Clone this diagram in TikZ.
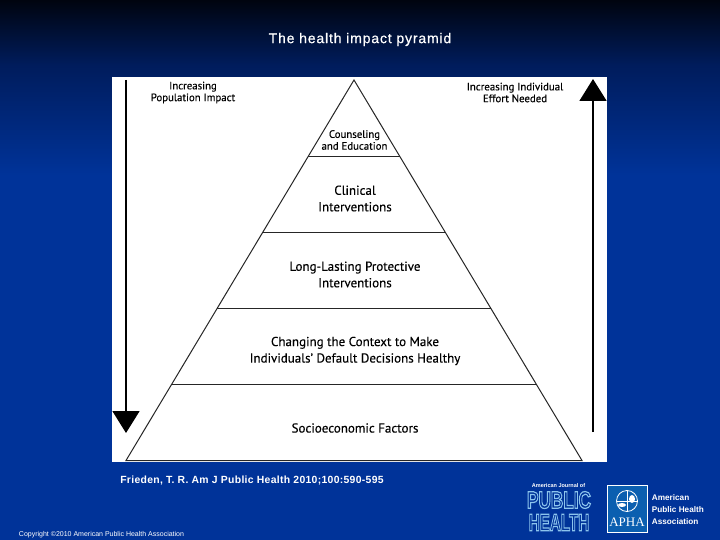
\documentclass[tikz,border=0pt]{standalone}
\usepackage{fontspec}
\usepackage{xcolor}
\setmainfont[FakeBold=0.25]{PT Sans}
\newfontfamily\slidefont{Liberation Sans}
\newfontfamily\titlefont[FakeBold=0.5,LetterSpace=6]{Liberation Sans}
\newfontfamily\logofont{Liberation Serif}
\definecolor{slideblue}{HTML}{003399}
\definecolor{slidemid}{HTML}{001C5C}
\definecolor{slidedark}{HTML}{00040F}
\definecolor{logoblue}{HTML}{0B5FB0}
\definecolor{logolight}{HTML}{8CC4EE}
\newcommand{\hollowtext}[1]{\special{pdf:code q 1 Tr 1 w 0.55 0.77 0.93 RG}#1\special{pdf:code Q}}
\usetikzlibrary{arrows.meta, positioning, calc}

\begin{document}
\begin{tikzpicture}[x=1pt, y=-1pt, thick]
    \tikzset{
        band/.style={align=center, font=\fontsize{13}{16.5}\selectfont, text=black, inner sep=0pt},
        side/.style={align=center, font=\fontsize{10.8}{11.8}\selectfont, text=black, inner sep=0pt},
        bigarrow/.style={draw=black, line width=1.7pt, -{Triangle[length=22pt, width=27pt]}},
        edge/.style={draw=black!85, line width=1pt},
        slide/.style={text=white, font=\slidefont, inner sep=0pt},
        logo/.style={text=logolight, font=\slidefont\bfseries, inner sep=0pt}
    }

    % background
    \useasboundingbox (0,0) rectangle (720,540);
    \fill[slideblue] (0,0) rectangle (720,540);
    \shade[top color=slidedark, bottom color=slidemid] (0,0) rectangle (720,65);
    \shade[top color=slidemid, bottom color=slideblue] (0,65) rectangle (720,175);
    \fill[white] (112,77) rectangle (607,462);

    % pyramid
    \coordinate (Apex) at (354,80);
    \coordinate (BaseL) at (126,460.5);
    \coordinate (BaseR) at (582,460.5);
    \coordinate (L1) at ($(Apex)!0.2!(BaseL)$);
    \coordinate (R1) at ($(Apex)!0.2!(BaseR)$);
    \coordinate (L2) at ($(Apex)!0.4!(BaseL)$);
    \coordinate (R2) at ($(Apex)!0.4!(BaseR)$);
    \coordinate (L3) at ($(Apex)!0.6!(BaseL)$);
    \coordinate (R3) at ($(Apex)!0.6!(BaseR)$);
    \coordinate (L4) at ($(Apex)!0.8!(BaseL)$);
    \coordinate (R4) at ($(Apex)!0.8!(BaseR)$);

    \path [edge] (Apex) -- (BaseL) -- (BaseR) -- cycle;
    \path [edge] (L1) -- (R1);
    \path [edge] (L2) -- (R2);
    \path [edge] (L3) -- (R3);
    \path [edge] (L4) -- (R4);

    \node (Counsel) [band, font=\fontsize{10.8}{11.8}\selectfont] at (354.5,140) {Counseling\\and Education};
    \node (Clinical) [band] at (355,198.5) {Clinical\\Interventions};
    \node (Protect) [band] at (355,274.5) {Long-Lasting Protective\\Interventions};
    \node (Context) [band] at (355,351) {Changing the Context to Make\\Individuals' Default Decisions Healthy};
    \node (Socio) [band] at (355,428) {Socioeconomic Factors};

    % side arrows
    \coordinate (PopTop) at (126,80);
    \coordinate (PopEnd) at (126,433);
    \coordinate (EffBot) at (593,432);
    \coordinate (EffEnd) at (593,79);
    \path [bigarrow] (PopTop) -- (PopEnd);
    \path [bigarrow] (EffBot) -- (EffEnd);
    \node (Pop) [side] at (193,92.5) {Increasing\\Population Impact};
    \node (Eff) [side] at (515,92.5) {Increasing Individual\\Effort Needed};

    % slide texts
    \node (Title) [slide, font=\titlefont\fontsize{14}{16}\selectfont] at (360,39.5) {The health impact pyramid};
    \node (Cite) [slide, font=\slidefont\bfseries\fontsize{10.4}{12}\selectfont\addfontfeature{LetterSpace=3}] at (252,480.5) {Frieden, T. R. Am J Public Health 2010;100:590-595};
    \node (Copy) [slide, font=\slidefont\fontsize{7}{9}\selectfont] at (101.5,534.5) {Copyright \textcopyright{}2010 American Public Health Association};

    % journal logo
    \node (Journal) [logo, text=white, font=\slidefont\bfseries\fontsize{5.5}{6}\selectfont] at (558.5,485.5) {American Journal of};
    \node (Public) [logo] at (559,500) {\scalebox{0.86}[1.2]{\fontsize{20}{20}\selectfont\hollowtext{PUBLIC}}};
    \node (Health) [logo] at (559,522.5) {\scalebox{0.76}[1.2]{\fontsize{20}{20}\selectfont\hollowtext{HEALTH}}};

    % association logo
    \node (Box) [draw=white, fill=logoblue, line width=0.8pt, minimum width=40pt, minimum height=47pt, inner sep=0pt] at (627,508.5) {};
    \node (Globe) [draw=white, circle, line width=0.8pt, minimum size=21pt, inner sep=0pt] at (627,501) {};
    \fill[white] (622,505) ellipse (4pt and 2pt);
    \fill[white] (632,499) ellipse (3pt and 4pt);
    \draw[white, line width=0.6pt] (627,490.5) -- (627,511.5) (616.5,501) -- (637.5,501);
    \node (Apha) [slide, font=\logofont\fontsize{13}{14}\selectfont] at (627,522) {APHA};
    \node (Assoc) [slide, align=left, anchor=west, font=\slidefont\bfseries\fontsize{8.2}{12}\selectfont] at (651.5,509.5) {American\\Public Health\\Association};
\end{tikzpicture}
\end{document}
